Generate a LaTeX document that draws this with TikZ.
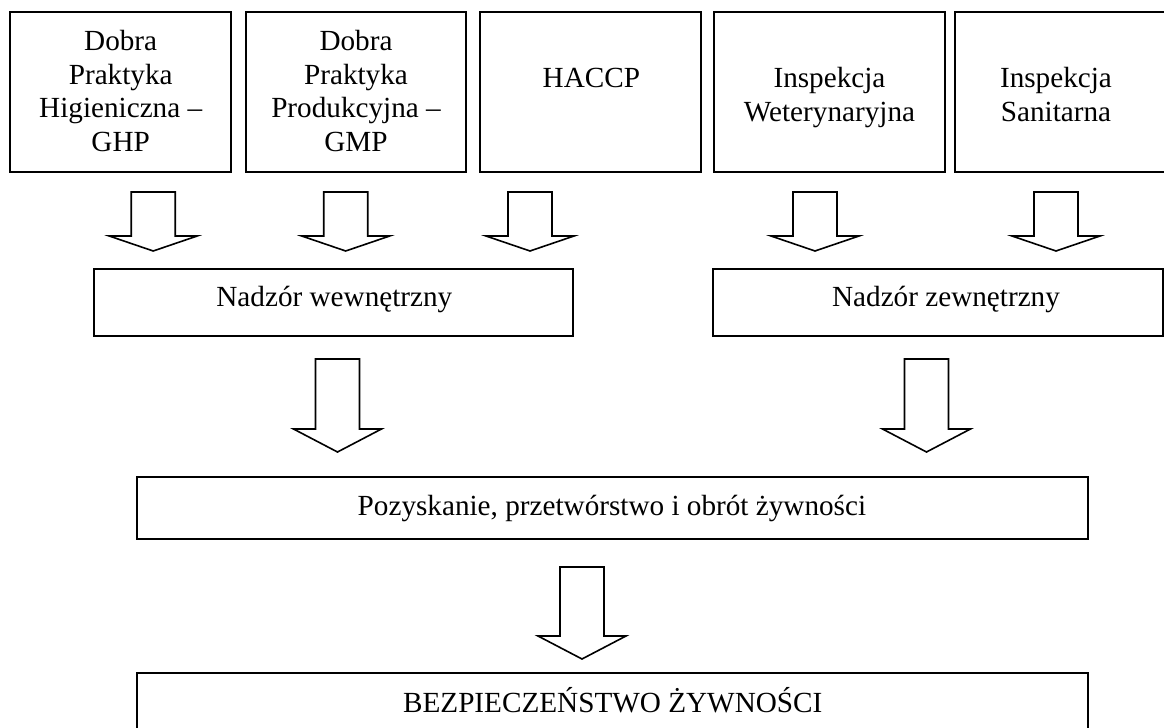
\documentclass[tikz,border=0pt]{standalone}
\usepackage{fontspec}
\setmainfont{Liberation Serif}
\usetikzlibrary{fit}
\tikzset{
  box/.style={draw, line width=1pt, inner sep=0pt, rectangle},
  txt/.style={inner sep=0pt, align=center, font=\fontsize{14.6}{16.8}\selectfont},
  arrowline/.style={draw, fill=white, line width=0.8pt, line join=miter},
}
\newcommand\myblockarrow[5]{%
  \coordinate (#1) at (#2,#3);
  \draw[arrowline] (#1) ++(-22,0) -- ++(44,0) -- (#2+22,#4) -- (#2+44,#4) -- (#2,#5) -- (#2-44,#4) -- (#2-22,#4) -- cycle;}
\begin{document}
\begin{tikzpicture}[x=0.5pt, y=-0.5pt]
\useasboundingbox (0,0) rectangle (1164,728);
\clip (0,0) rectangle (1164,728);
% top boxes
\node[box, fit={(10,12) (231,172)}] (b1) {};
\node[box, fit={(246,12) (466,172)}] (b2) {};
\node[box, fit={(480,12) (701,172)}] (b3) {};
\node[box, fit={(714,12) (945,172)}] (b4) {};
\node[box, fit={(955,12) (1185,172)}] (b5) {};
\node[txt, anchor=north] (t1) at (120.7,30.1) {Dobra\\Praktyka\\Higieniczna –\\GHP};
\node[txt, anchor=north] (t2) at (356,30.1) {Dobra\\Praktyka\\Produkcyjna –\\GMP};
\node[txt, anchor=base west] (t3) at (542.3,87.3) {HACCP};
\node[txt, anchor=north] (t4) at (829.5,67.1) {Inspekcja\\Weterynaryjna};
\node[txt, anchor=north] (t5) at (1056,67.1) {Inspekcja\\Sanitarna};
% arrows row 1
\myblockarrow{a1}{153.2}{192}{236}{251}
\myblockarrow{a2}{345.7}{192}{236}{251}
\myblockarrow{a3}{530}{192}{236}{251}
\myblockarrow{a4}{815}{192}{236}{251}
\myblockarrow{a5}{1056}{192}{236}{251}
% supervision boxes
\node[box, fit={(94.3,269) (573.3,335.7)}] (nw) {};
\node[box, fit={(713.3,269) (1163,335.7)}] (nz) {};
\node[txt, anchor=base west] (tnw) at (216,306.7) {Nadzór wewnętrzny};
\node[txt, anchor=base west] (tnz) at (831.7,306.7) {Nadzór zewnętrzny};
% arrows row 2
\myblockarrow{a6}{337.5}{359}{429}{452}
\myblockarrow{a7}{926.5}{359}{429}{452}
% processing box
\node[box, fit={(136.7,477) (1087.7,539)}] (poz) {};
\node[txt, anchor=base west] (tpoz) at (357.3,515.5) {Pozyskanie, przetwórstwo i obrót żywności};
% arrow row 3
\myblockarrow{a8}{582}{567}{636}{659}
% safety box
\node[box, fit={(136.7,673.3) (1087.5,750)}] (bez) {};
\node[txt, anchor=base west] (tbez) at (402.7,712) {BEZPIECZEŃSTWO ŻYWNOŚCI};
\end{tikzpicture}
\end{document}
